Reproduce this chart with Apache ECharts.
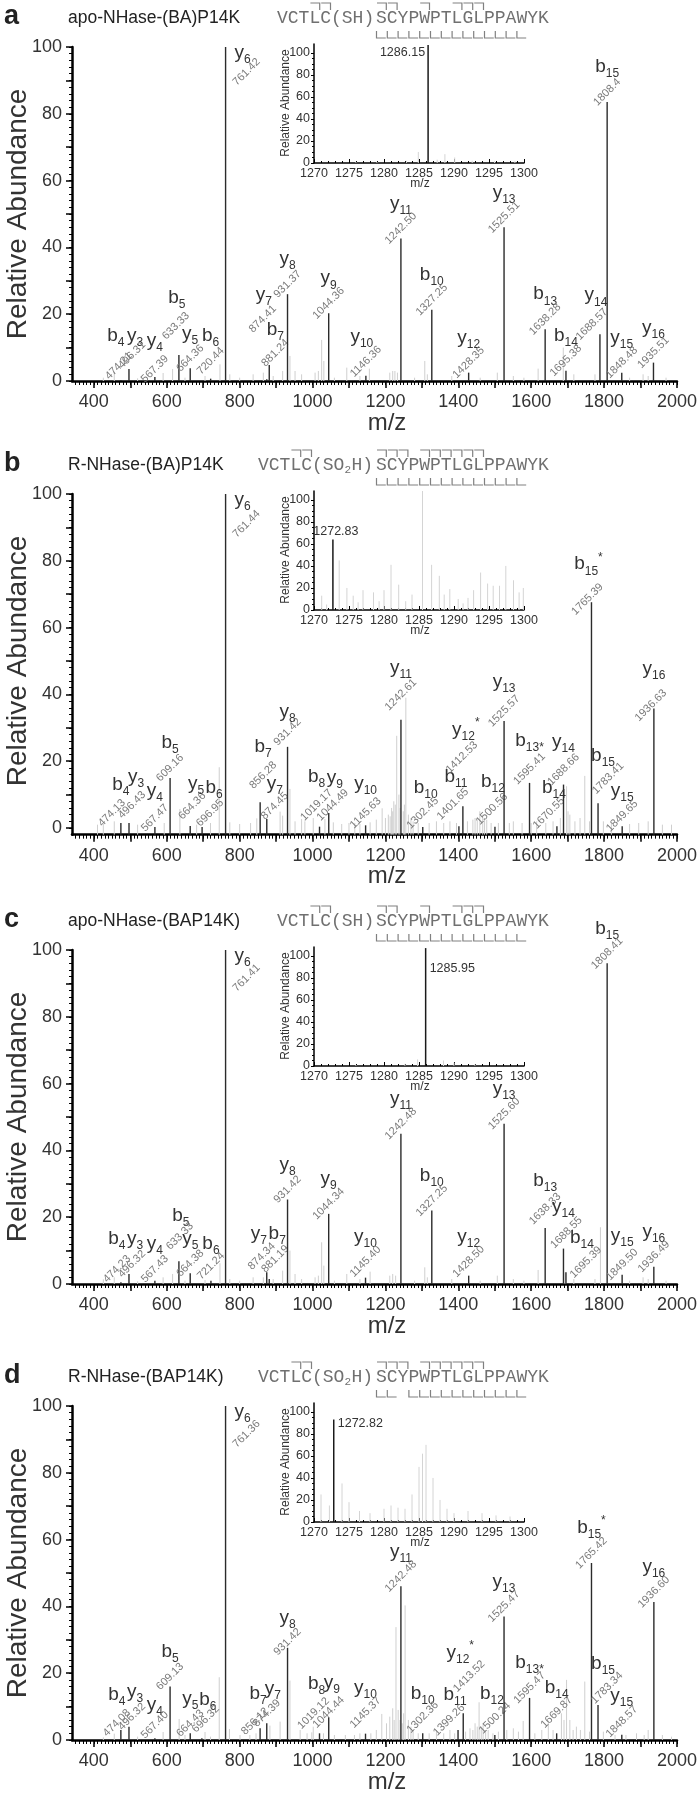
<!DOCTYPE html>
<html>
<head>
<meta charset="utf-8">
<script src="https://cdn.jsdelivr.net/npm/echarts@6.0.0/dist/echarts.min.js"></script>
<style>
html,body{margin:0;padding:0;background:#fff;}
#chart{width:700px;height:1793px;}
</style>
</head>
<body>
<div id="chart"></div>
<script>
// ---------------- tick labels ----------------
function range(a,b,s){const r=[];for(let v=a;v<=b+1e-9;v+=s)r.push(Math.round(v*100)/100);return r;}
const xTickLabels=[400,600,800,1000,1200,1400,1600,1800,2000];
const xMajorTicks=range(400,2000,100);
const xMinorTicks=range(350,2000,10);
const yTickLabels=[0,20,40,60,80,100];
const yMajorTicks=range(0,100,10);
const yMinorTicks=range(0,100,2);
const insetXTickLabels=[1270,1275,1280,1285,1290,1295,1300];
const insetXMinorTicks=range(1270,1300,1);
const insetYTickLabels=[0,20,40,60,80,100];
const insetYMinorTicks=range(0,100,5);

const panelLetters=['a','b','c','d'];
const panelTitles=['apo-NHase-(BA)P14K','R-NHase-(BA)P14K','apo-NHase-(BAP14K)','R-NHase-(BAP14K)'];
const peptideTail='SCYPWPTLGLPPAWYK';

// ---------------- panel a ----------------
const aIonNames=['b4','y3','y4','b5','y5','b6','y6','y7','b7','y8','y9','y10','y11','b10','y12','y13','b13','b14','y14','b15','y15','y16'];
const aIonMzText=['474.21','496.31','567.39','633.33','664.36','720.44','761.42','874.41','881.24','931.37','1044.36','1146.36','1242.50','1327.25','1428.35','1525.51','1638.28','1695.38','1688.57','1808.4','1848.48','1935.51'];
const aIonMz=[474.21,496.31,567.39,633.33,664.36,720.44,761.42,874.41,881.24,931.37,1044.36,1146.36,1242.50,1327.25,1428.35,1525.51,1638.28,1695.38,1788.6,1808.4,1848.48,1935.51];
const aIonAbund=[0.3,3.6,1.2,7.8,3.8,0.7,100,0.5,4.8,26,20.3,1.6,42.7,21.3,2.5,46,15.5,3.1,14,83.5,2.5,5.5];
const aNoiseMz=[426,456,520,590,616,650,705,746,773,800,837,865,892,918,938,952,970,1007,1016,1025,1031,1060,1094,1130,1156,1212,1220,1226,1233,1280,1308,1315,1382,1460,1507,1551,1580,1619,1688,1717,1775,1870,1907,1921,1970];
const aNoiseAbund=[1,2.8,0.8,2.4,3.6,1,1.5,5,2,1,2,2.5,1.5,3,7.5,3,2,2.5,3,12.3,6,1,4,1.5,3.7,2.5,3,3,2.5,1,6,2,1.5,1,2.5,1.5,1,3.7,10,2,2,1,2,1.5,1];
const aInsetMz=[1286.3];
const aInsetAbund=[107];
const aInsetText=['1286.15'];
const aInsetNoiseMz=[1276,1279,1283.2,1284.9,1287.6,1288.7,1290.1,1292.6,1295.8,1298.7];
const aInsetNoiseAbund=[1,1,2,10,3,8,5,2,1.5,1.5];

// ---------------- panel b ----------------
const bIonNames=['b4','y3','y4','b5','y5','b6','y6','b7','y7','y8','b8','y9','y10','y11','b10','b11','y12^*','b12','y13','b13*','b14','y14','b15^*','b15','y15','y16'];
const bIonMzText=['474.13','496.43','567.47','609.16','664.36','696.95','761.44','856.28','874.45','931.42','1019.17','1044.49','1145.63','1242.61','1302.45','1401.65','1412.53','1500.56','1525.57','1595.41','1670.55','1688.66','1765.39','1783.41','1849.65','1936.63'];
const bIonMz=[474.13,496.43,567.47,609.16,664.36,696.95,761.44,856.28,874.45,931.42,1019.17,1044.49,1145.63,1242.61,1302.45,1401.65,1412.53,1500.56,1525.57,1595.41,1670.55,1688.66,1765.39,1783.41,1849.65,1936.63];
const bIonAbund=[1.5,1.5,0.3,15,0.6,0.3,100,7.7,2.7,24.3,0.4,4.5,0.8,32.4,0.3,0.5,6.5,0.4,32,13.5,0.5,13,67.6,7.4,0.5,35.8];
const bNoiseMz=[410,426,456,520,593,636,682,720,744,773,800,830,847,911,918,938,952,970,979,1002,1034,1057,1080,1100,1116,1130,1158,1175,1191,1200,1208,1213,1217,1220,1223,1227,1231,1237,1240,1249,1252,1256,1263,1270,1276,1290,1320,1340,1360,1377,1395,1425,1440,1446,1452,1459,1467,1472,1478,1490,1510,1540,1551,1575,1600,1615,1640,1660,1680,1697,1701,1706,1720,1734,1747,1760,1798,1820,1870,1895,1921,1960,1985];
const bNoiseAbund=[1,1.2,2,1,1.5,5.7,1,1.5,18.2,1.7,1.2,1.5,2.9,4.9,3.7,11.7,2,2.7,2,3,2.7,1.7,1.2,1.5,1.5,1.2,1.7,2.5,5.9,3,4,3.5,6,5,8,7,27.6,10,6,5,7,39,4,3,2,1.5,1.5,2,1.5,2,1.5,2,2.5,3,2.5,5,4,3,2.5,1.5,1.5,1.5,2,1.5,1.5,2,1.5,2,3,12.5,5,4,2,3,15.6,2,2,1.2,1.2,1.5,2,1,1];
const bInsetMz=[1272.7];
const bInsetAbund=[64];
const bInsetText=['1272.83'];
const bInsetNoiseMz=[1271.1,1271.8,1273.6,1274.7,1275.6,1276.3,1277.0,1278.5,1279.3,1280.0,1281.0,1282.1,1283.1,1284.0,1285.5,1286.8,1287.9,1288.6,1289.4,1290.6,1291.3,1292.0,1292.8,1293.8,1294.8,1295.6,1296.5,1297.4,1298.5,1299.3,1299.9];
const bInsetNoiseAbund=[13,5,45,20,13,7,18,16,8,18,41,23,8,14,108,41,31,14,19,10,6,11,18,34,24,22,22,40,27,16,20];

// ---------------- panel c ----------------
const cIonNames=['b4','y3','y4','b5','y5','b6','y6','y7','b7','y8','y9','y10','y11','b10','y12','y13','b13','y14','b14','b15','y15','y16'];
const cIonMzText=['474.23','496.32','567.43','633.33','664.38','721.24','761.41','874.34','881.19','931.42','1044.34','1145.40','1242.48','1327.25','1428.50','1525.60','1638.33','1688.55','1695.39','1808.41','1849.50','1936.49'];
const cIonMz=[474.23,496.32,567.43,633.33,664.38,721.24,761.41,874.34,881.19,931.42,1044.34,1145.40,1242.48,1327.25,1428.50,1525.60,1638.33,1688.55,1695.39,1808.41,1849.50,1936.49];
const cIonAbund=[0.5,3,1,6.8,3.2,1,100,3.5,1.5,25.3,21,1.9,45,22,2.5,48,16.8,10.6,3.5,96,2.8,5.2];
const cNoiseMz=[426,456,520,590,616,650,705,746,773,800,837,865,892,918,938,952,970,1007,1016,1025,1031,1060,1094,1130,1158,1212,1220,1228,1280,1308,1315,1382,1460,1507,1551,1580,1619,1693,1717,1775,1790,1870,1907,1921,1970];
const cNoiseAbund=[1.4,2,0.8,2,3,1,1.2,6.2,1.5,1,2,2,1.5,4,10,3,1.5,2,2.5,12.5,5.5,1,3,1.5,3.7,2.5,3,2.5,1,5,2,1.5,1,2.5,1.5,1,4.2,3.5,1.5,1.5,17,1,2,1.5,1];
const cInsetMz=[1285.95];
const cInsetAbund=[107];
const cInsetText=['1285.95'];
const cInsetNoiseMz=[1276,1283,1284.8,1288.5,1290,1293];
const cInsetNoiseAbund=[1,2,6,5,3,1.5];

// ---------------- panel d ----------------
const dIonNames=['b4','y3','y4','b5','y5','b6','y6','b7','y7','y8','b8','y9','y10','y11','b10','b11','y12^*','b12','y13','b13*','b14','b15^*','b15','y15','y16'];
const dIonMzText=['474.08','496.32','567.40','609.13','664.43','696.32','761.36','856.12','874.39','931.42','1019.12','1044.44','1145.37','1242.48','1302.36','1399.26','1413.52','1500.24','1525.47','1595.47','1669.87','1765.42','1783.34','1848.57','1936.60'];
const dIonMz=[474.08,496.32,567.40,609.13,664.43,696.32,761.36,856.12,874.39,931.42,1019.12,1044.44,1145.37,1242.48,1302.36,1399.26,1413.52,1500.24,1525.47,1595.47,1669.87,1765.42,1783.34,1848.57,1936.60];
const dIonAbund=[3,4,0.5,16,2,0.5,100,3.5,5,27.6,2,6.8,1.9,46,2,3,8,1.5,37,12.6,2,53,10.5,1.6,41.3];
const dNoiseMz=[426,456,520,590,634,650,705,720,744,772,801,828,845,883,911,938,966,985,998,1002,1030,1060,1090,1115,1130,1160,1175,1190,1203,1212,1220,1224,1229,1235,1240,1246,1250,1254,1263,1270,1276,1290,1320,1340,1360,1377,1390,1420,1432,1440,1446,1452,1457,1463,1468,1475,1482,1495,1510,1533,1551,1565,1578,1610,1629,1647,1660,1683,1690,1697,1706,1715,1724,1735,1747,1760,1798,1830,1860,1889,1910,1921,1960,1985];
const dNoiseAbund=[0.8,1.9,1,2.4,6.3,1.5,2.4,1,18.8,3.3,1.5,1.5,2,4.3,5.5,17.8,3,2,2.3,4,2,1.5,1.5,1.5,2,2,3,7.8,5,7,9.5,6,33.8,9,6,5,8,40.3,6,4,3,2,2,3,2,3,2,2.5,3.5,3,5,4,11.3,4,5,3,3,2,2.5,3,3.5,2.5,5.7,2,3,5.8,3,8,6,18,6,3,4,3,17.5,2.5,2.5,1.5,1.5,2,1.5,3,1.5,1];
const dInsetMz=[1272.82];
const dInsetAbund=[93];
const dInsetText=['1272.82'];
const dInsetNoiseMz=[1271,1272.2,1274,1275,1276.5,1278,1280,1281,1282,1283,1284,1285,1285.5,1286,1287,1288,1289,1290,1292,1294,1296,1298];
const dInsetNoiseAbund=[25,15,35,18,10,8,12,15,13,12,25,50,62,70,40,20,12,8,10,8,6,5];

// ---------------- layout (styles / positions, not data) ----------------
const aNudge={b4:[-5,-5,-2,0],y3:[6,2,3,-4],y4:[0,0,0,3],b5:[-2,-22,-3,-19],b6:[0,-5,0,-5],y6:[17,41,21,35],y7:[-3,-46,-4,-47],b7:[6,0,6,-2],y10:[-4,-4,0,-4],y14:[-4,-4,-8,0]};
const bNudge={b4:[0,-3,-9,0],y3:[7,-11,3,-8],y4:[0,3,0,5],y5:[6,-4,2,-7],b6:[12,0,8,0],y6:[17,41,21,40],b7:[3,-21,3,-17],y7:[8,0,8,-3],y8:[0,0,0,-5],b8:[-3,-11,-3,-8],y9:[6,0,4,2],y10:[0,-4,0,0],y11:[0,-17,0,-15],b10:[3,0,0,0],b11:[-3,-11,-6,-9],'y12^*':[3,-42,-1,-39],b12:[-2,-6,-3,-4],y13:[0,-4,0,0],'b13*':[0,-7,0,-4],b14:[-3,0,-8,0],y14:[0,-8,0,-5],'b15^*':[-3,-3,-4,7],b15:[5,-13,10,-15],y15:[0,3,0,3],y16:[0,-5,-3,7]};
const cNudge={b4:[-4,-5,-4,0],y3:[6,0,3,0],b5:[2,-11,1,-15],b6:[0,0,0,-3],y6:[17,41,21,38],y7:[-8,-4,-5,-6],b7:[8,-10,6,-10],y10:[0,-6,0,-6],y12:[0,-4,0,-4],b13:[0,-12,0,-9],y14:[0,-7,3,-6],b14:[16,0,20,0],y15:[0,-4,0,0]};
const dNudge={b4:[-4,0,-4,3],y3:[6,0,3,0],y4:[0,5,0,0],b6:[6,0,4,-6],y6:[17,41,21,38],b7:[-2,0,-5,3],y7:[6,0,0,0],y8:[0,5,0,4],b8:[-3,-15,-6,-10],y9:[3,0,0,5],y10:[0,-11,0,-11],b10:[0,-5,0,-6],b11:[-3,0,-9,0],'y12^*':[-3,-26,6,-27],b12:[-3,-6,0,-7],b14:[0,-11,0,-11],b15:[5,-6,9,-7],y15:[0,-4,0,-3]};

const PANELS=[
 {shift:0,   yMin:0,  ions:aIonNames,mzText:aIonMzText,mz:aIonMz,ab:aIonAbund,nMz:aNoiseMz,nAb:aNoiseAbund,iMz:aInsetMz,iAb:aInsetAbund,iText:aInsetText,iNMz:aInsetNoiseMz,iNAb:aInsetNoiseAbund,iLabel:'left', mod:'SH',  seqX:277, bCuts:[4,5,6,7,10,13,14,15], yCuts:[3,4,5,6,7,8,9,10,11,12,13,14,15,16], nudge:aNudge},
 {shift:447, yMin:-2, ions:bIonNames,mzText:bIonMzText,mz:bIonMz,ab:bIonAbund,nMz:bNoiseMz,nAb:bNoiseAbund,iMz:bInsetMz,iAb:bInsetAbund,iText:bInsetText,iNMz:bInsetNoiseMz,iNAb:bInsetNoiseAbund,iLabel:'above',mod:'SO2H',seqX:258, bCuts:[4,5,6,7,8,10,11,12,13,14,15], yCuts:[3,4,5,6,7,8,9,10,11,12,13,14,15,16], nudge:bNudge},
 {shift:903, yMin:0,  ions:cIonNames,mzText:cIonMzText,mz:cIonMz,ab:cIonAbund,nMz:cNoiseMz,nAb:cNoiseAbund,iMz:cInsetMz,iAb:cInsetAbund,iText:cInsetText,iNMz:cInsetNoiseMz,iNAb:cInsetNoiseAbund,iLabel:'rightLow',mod:'SH',seqX:277, bCuts:[4,5,6,7,10,13,14,15], yCuts:[3,4,5,6,7,8,9,10,11,12,13,14,15,16], nudge:cNudge},
 {shift:1359,yMin:0,  ions:dIonNames,mzText:dIonMzText,mz:dIonMz,ab:dIonAbund,nMz:dNoiseMz,nAb:dNoiseAbund,iMz:dInsetMz,iAb:dInsetAbund,iText:dInsetText,iNMz:dInsetNoiseMz,iNAb:dInsetNoiseAbund,iLabel:'right',mod:'SO2H',seqX:258, bCuts:[4,5,6,7,8,10,11,12,13,14,15], yCuts:[3,4,5,6,7,8,9,10,11,12,13,15,16], nudge:dNudge}
];

const FONT='Liberation Sans';
const MONO='Liberation Mono';
const MAIN_LEFT=72, MAIN_W=605, TOP0=47, PX_PER_UNIT=3.34;
const INSET_LEFT=314, INSET_W=210, INSET_TOP0=44, INSET_H=119, INSET_MAX=108;
const CW=10.8, TAIL_X=376;
const plain=v=>String(v);

const RICH={
  b:{fontSize:19,lineHeight:26,fontFamily:FONT,fill:'#333',color:'#333'},
  s:{fontSize:12,lineHeight:12,verticalAlign:'bottom',fontFamily:FONT,fill:'#333',color:'#333'},
  p:{fontSize:12,lineHeight:12,verticalAlign:'top',fontFamily:FONT,fill:'#333',color:'#333'},
  q:{fontSize:12,lineHeight:12,verticalAlign:'bottom',fontFamily:FONT,fill:'#333',color:'#333'}
};
function ionRich(name){
  const m=/^([by])(\d+)(\^\*|\*)?$/.exec(name);
  let t='{b|'+m[1]+'}{s|'+m[2]+'}';
  if(m[3]==='^*') t+='{p|*}'; else if(m[3]==='*') t+='{q|*}';
  return t;
}

const grids=[],xAxes=[],yAxes=[],series=[],graphics=[];

PANELS.forEach((P,pi)=>{
  const s=P.shift;
  const mainH=(100-P.yMin)*PX_PER_UNIT;
  const gMain=grids.length;
  grids.push({left:MAIN_LEFT,top:TOP0+s,width:MAIN_W,height:mainH});
  const gIn=grids.length;
  grids.push({left:INSET_LEFT,top:INSET_TOP0+s,width:INSET_W,height:INSET_H});

  const xm=xAxes.length;
  xAxes.push({type:'value',gridIndex:gMain,position:'bottom',min:340,max:2000,
    axisLine:{show:true,onZero:false,lineStyle:{color:'#000',width:2.5}},
    axisTick:{show:true,customValues:xMajorTicks,length:7,lineStyle:{color:'#000',width:1.5}},
    axisLabel:{show:true,customValues:xTickLabels,formatter:plain,fontSize:18,color:'#333',margin:12,fontFamily:FONT},
    splitLine:{show:false}});
  xAxes.push({type:'value',gridIndex:gMain,position:'bottom',min:340,max:2000,
    axisLine:{show:false,onZero:false},
    axisTick:{show:true,customValues:xMinorTicks,length:4,lineStyle:{color:'#000',width:1}},
    axisLabel:{show:false},splitLine:{show:false}});
  const xi=xAxes.length;
  xAxes.push({type:'value',gridIndex:gIn,position:'bottom',min:1270,max:1300,
    axisLine:{show:true,onZero:false,lineStyle:{color:'#000',width:1.5}},
    axisTick:{show:true,inside:true,customValues:insetXTickLabels,length:4,lineStyle:{color:'#000',width:1}},
    axisLabel:{show:true,customValues:insetXTickLabels,formatter:plain,fontSize:12.5,color:'#333',margin:4,fontFamily:FONT},
    splitLine:{show:false}});
  xAxes.push({type:'value',gridIndex:gIn,position:'bottom',min:1270,max:1300,
    axisLine:{show:false,onZero:false},
    axisTick:{show:true,inside:true,customValues:insetXMinorTicks,length:2,lineStyle:{color:'#000',width:1}},
    axisLabel:{show:false},splitLine:{show:false}});

  const ym=yAxes.length;
  yAxes.push({type:'value',gridIndex:gMain,position:'left',min:P.yMin,max:100,
    axisLine:{show:true,onZero:false,lineStyle:{color:'#000',width:2.5}},
    axisTick:{show:true,customValues:yMajorTicks,length:6,lineStyle:{color:'#000',width:1.5}},
    axisLabel:{show:true,customValues:yTickLabels,formatter:plain,fontSize:18,color:'#333',margin:10,fontFamily:FONT},
    splitLine:{show:false}});
  yAxes.push({type:'value',gridIndex:gMain,position:'left',min:P.yMin,max:100,
    axisLine:{show:false,onZero:false},
    axisTick:{show:true,customValues:yMinorTicks,length:3,lineStyle:{color:'#000',width:1}},
    axisLabel:{show:false},splitLine:{show:false}});
  const yi=yAxes.length;
  yAxes.push({type:'value',gridIndex:gIn,position:'left',min:0,max:INSET_MAX,
    axisLine:{show:true,onZero:false,lineStyle:{color:'#000',width:1.5}},
    axisTick:{show:true,customValues:insetYTickLabels,length:3,lineStyle:{color:'#000',width:1}},
    axisLabel:{show:true,customValues:insetYTickLabels,formatter:plain,fontSize:12.5,color:'#333',margin:4,fontFamily:FONT},
    splitLine:{show:false}});
  yAxes.push({type:'value',gridIndex:gIn,position:'left',min:0,max:INSET_MAX,
    axisLine:{show:false,onZero:false},
    axisTick:{show:true,customValues:insetYMinorTicks,length:2,lineStyle:{color:'#000',width:1}},
    axisLabel:{show:false},splitLine:{show:false}});

  series.push({type:'custom',xAxisIndex:xm,yAxisIndex:ym,silent:true,z:2,
    data:P.nMz.map((m,k)=>[m,P.nAb[k]]),
    renderItem:(params,api)=>{
      const x=api.value(0),h=api.value(1);
      const p0=api.coord([x,P.yMin]),p1=api.coord([x,h]);
      return {type:'line',shape:{x1:p0[0],y1:p0[1],x2:p1[0],y2:p1[1]},style:{stroke:'#cfcfcf',lineWidth:1}};
    }});
  series.push({type:'custom',xAxisIndex:xm,yAxisIndex:ym,silent:true,z:5,
    data:P.ab.map((v,k)=>[P.mz[k],v,k]),
    renderItem:(params,api)=>{
      const x=api.value(0),h=api.value(1),k=api.value(2);
      const p0=api.coord([x,P.yMin]),p1=api.coord([x,h]);
      const top=api.coord([x,Math.max(h,1.5)])[1];
      const name=P.ions[k];
      const n=P.nudge[name]||[0,0,0,0];
      return {type:'group',children:[
        {type:'line',shape:{x1:p0[0],y1:p0[1],x2:p1[0],y2:p1[1]},style:{stroke:'#2b2b2b',lineWidth:1.4}},
        {type:'text',x:p1[0]+n[0],y:top-35+n[1],style:{text:ionRich(name),rich:RICH,align:'center',verticalAlign:'middle',fill:'#333',fontFamily:FONT}},
        {type:'text',x:p1[0]+n[2],y:top-10+n[3],rotation:Math.PI/4,style:{text:P.mzText[k],fontSize:11,fontFamily:FONT,fill:'#7a7a7a',align:'center',verticalAlign:'middle'}}
      ]};
    }});
  series.push({type:'custom',xAxisIndex:xi,yAxisIndex:yi,silent:true,z:2,
    data:P.iNMz.map((m,k)=>[m,P.iNAb[k]]),
    renderItem:(params,api)=>{
      const x=api.value(0),h=api.value(1);
      const p0=api.coord([x,0]),p1=api.coord([x,h]);
      return {type:'line',shape:{x1:p0[0],y1:p0[1],x2:p1[0],y2:p1[1]},style:{stroke:'#d4d4d4',lineWidth:1}};
    }});
  series.push({type:'custom',xAxisIndex:xi,yAxisIndex:yi,silent:true,z:5,
    data:P.iAb.map((v,k)=>[P.iMz[k],v,k]),
    renderItem:(params,api)=>{
      const x=api.value(0),h=api.value(1),k=api.value(2);
      const p0=api.coord([x,0]),p1=api.coord([x,h]);
      let tx,ty,al;
      if(P.iLabel==='left'){tx=p1[0]-3;ty=api.coord([x,100])[1];al='right';}
      else if(P.iLabel==='above'){tx=p1[0]+3;ty=p1[1]-8;al='center';}
      else if(P.iLabel==='rightLow'){tx=p1[0]+4;ty=p1[1]+20;al='left';}
      else {tx=p1[0]+4;ty=p1[1]+4;al='left';}
      return {type:'group',children:[
        {type:'line',shape:{x1:p0[0],y1:p0[1],x2:p1[0],y2:p1[1]},style:{stroke:'#1a1a1a',lineWidth:1.5}},
        {type:'text',x:tx,y:ty,style:{text:P.iText[k],fontSize:12.5,fontFamily:FONT,fill:'#333',align:al,verticalAlign:'middle'}}
      ]};
    }});

  graphics.push({type:'text',x:4,y:17+s,style:{text:panelLetters[pi],fontSize:27,fontWeight:'bold',fontFamily:FONT,fill:'#222',align:'left',verticalAlign:'middle'}});
  graphics.push({type:'text',x:68,y:18+s,style:{text:panelTitles[pi],fontSize:17.5,fontFamily:FONT,fill:'#222',align:'left',verticalAlign:'middle'}});
  graphics.push({type:'text',x:18,y:214+s,rotation:Math.PI/2,style:{text:'Relative Abundance',fontSize:28,fontFamily:FONT,fill:'#333',align:'center',verticalAlign:'middle'}});
  graphics.push({type:'text',x:387,y:423+s+(P.yMin<0?6:0),style:{text:'m/z',fontSize:24,fontFamily:FONT,fill:'#333',align:'center',verticalAlign:'middle'}});
  graphics.push({type:'text',x:286,y:103+s,rotation:Math.PI/2,style:{text:'Relative Abundance',fontSize:12,fontFamily:FONT,fill:'#333',align:'center',verticalAlign:'middle'}});
  graphics.push({type:'text',x:420,y:184+s,style:{text:'m/z',fontSize:12,fontFamily:FONT,fill:'#333',align:'center',verticalAlign:'middle'}});

  const sy=18+s;
  const seqStyle={fontSize:18,fontFamily:MONO,fill:'#707070',align:'left',verticalAlign:'middle'};
  if(P.mod==='SH'){
    graphics.push({type:'text',x:P.seqX,y:sy,style:Object.assign({text:'VCTLC(SH)'},seqStyle)});
  } else {
    graphics.push({type:'text',x:P.seqX,y:sy,style:Object.assign({text:'VCTLC(SO'},seqStyle)});
    graphics.push({type:'text',x:P.seqX+8*CW,y:sy+5,style:{text:'2',fontSize:11,fontFamily:MONO,fill:'#707070',align:'left',verticalAlign:'middle'}});
    graphics.push({type:'text',x:P.seqX+8*CW+7,y:sy,style:Object.assign({text:'H)'},seqStyle)});
  }
  graphics.push({type:'text',x:TAIL_X,y:sy,style:Object.assign({text:peptideTail},seqStyle)});
  function resLeft(r){return r<=5?P.seqX+(r-1)*CW:TAIL_X+(r-6)*CW;}
  P.bCuts.forEach(r=>{
    const L=resLeft(r);
    graphics.push({type:'polyline',shape:{points:[[L+1,3+s],[L+CW-0.5,3+s],[L+CW-0.5,10+s]]},style:{stroke:'#808080',lineWidth:1.2,fill:null}});
  });
  P.yCuts.forEach(n=>{
    const r=22-n, L=resLeft(r);
    graphics.push({type:'polyline',shape:{points:[[L+0.5,31+s],[L+0.5,38+s],[L+CW-1,38+s]]},style:{stroke:'#808080',lineWidth:1.2,fill:null}});
  });
});

const chart=echarts.init(document.getElementById('chart'),null,{renderer:'canvas',width:700,height:1793});
chart.setOption({
  animation:false,
  backgroundColor:'#fff',
  grid:grids,xAxis:xAxes,yAxis:yAxes,series:series,
  graphic:{elements:graphics.map(g=>Object.assign({silent:true,z:100},g))}
});
</script>
</body>
</html>
